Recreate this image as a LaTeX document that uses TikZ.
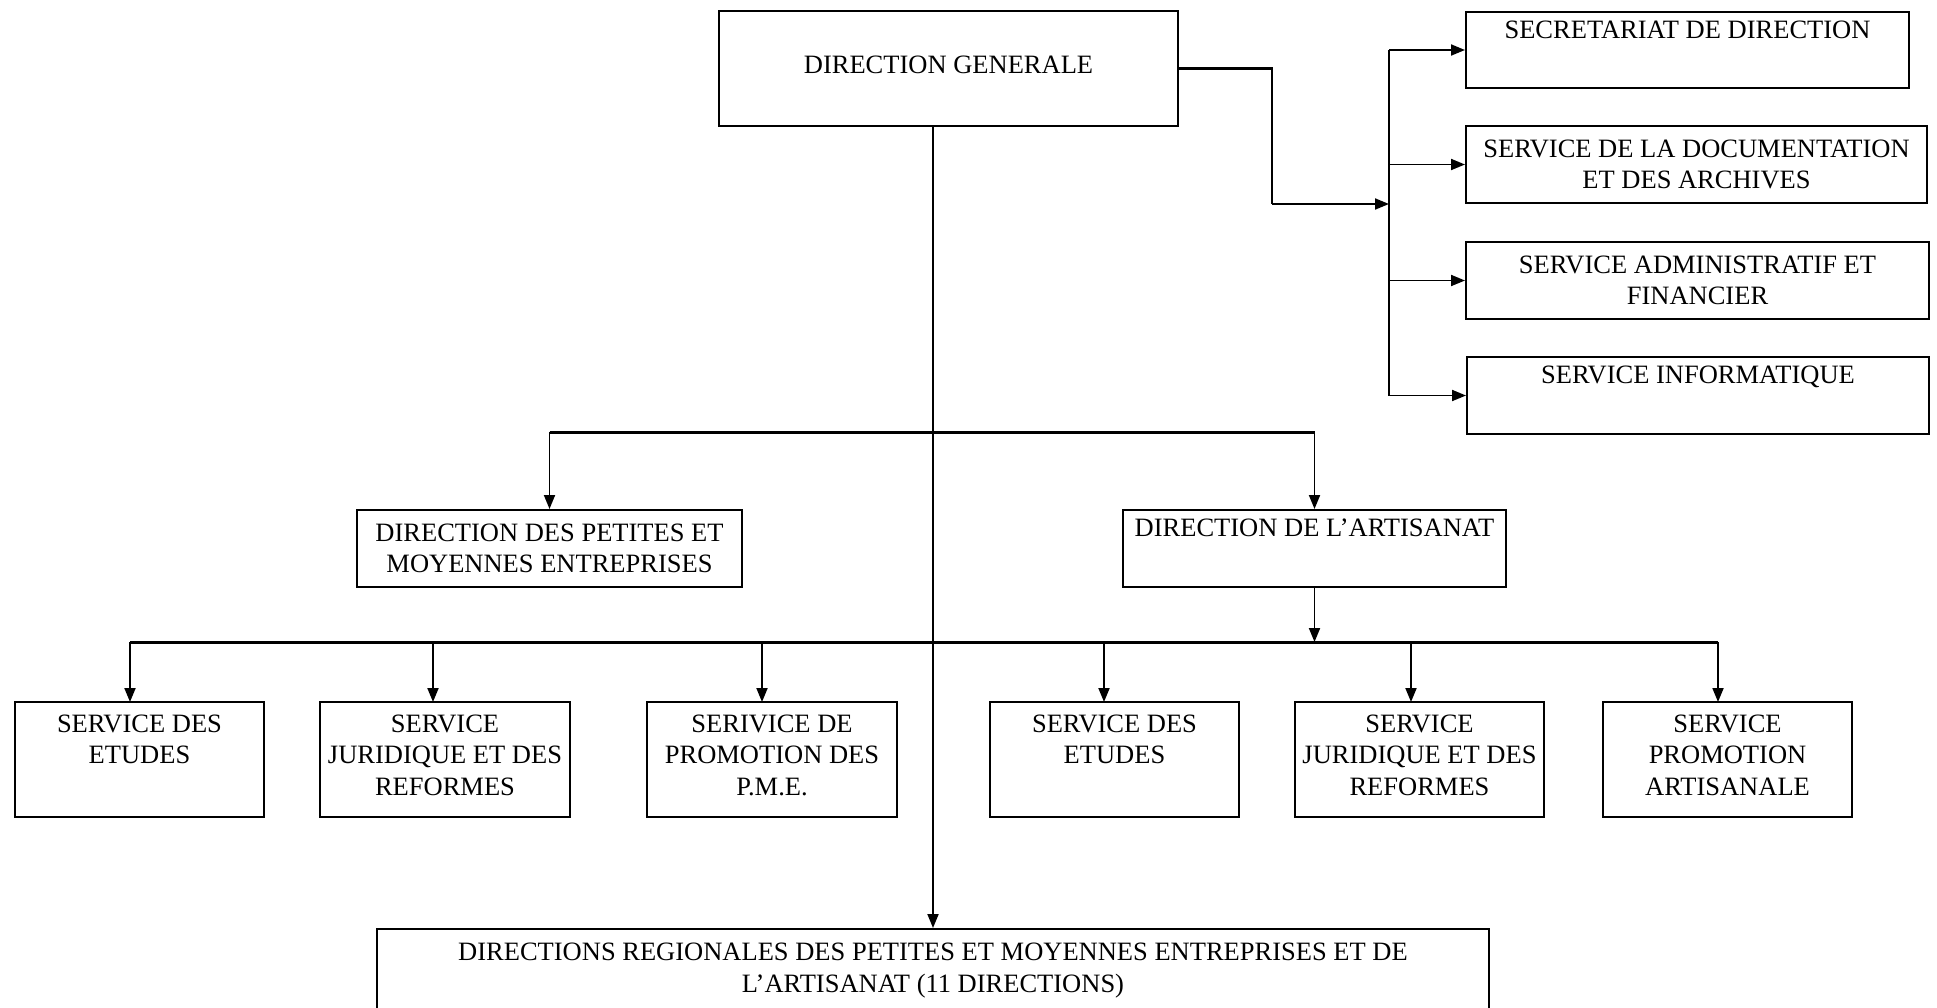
\documentclass[tikz,border=0pt]{standalone}
\usepackage{fontspec}
\setmainfont{Liberation Serif}
\usetikzlibrary{arrows.meta}
\begin{document}
\begin{tikzpicture}[x=1pt,y=-1pt,
  box/.style={draw, line width=2pt, align=center, inner sep=0pt,
    font=\fontsize{26.5}{31.5}\selectfont},
  conn/.style={line width=2.1pt},
  bus/.style={line width=3pt},
  arr/.style={line width=1.9pt, -{Triangle[length=14pt,width=11pt]}},
]
\useasboundingbox (0,0) rectangle (1937,1007);

% top
\node[box, minimum width=459pt, minimum height=115pt, text depth=8pt] (DG) at (948.5,68.5) {DIRECTION GENERALE};

% right column
\node[box, minimum width=443pt, minimum height=76pt] (SEC) at (1687.5,50) {SECRETARIAT DE DIRECTION\\\strut};
\node[box, minimum width=461pt, minimum height=77pt] (DOC) at (1696.5,164.5) {SERVICE DE LA DOCUMENTATION\\ET DES ARCHIVES};
\node[box, minimum width=463pt, minimum height=77pt] (ADM) at (1697.5,280.5) {SERVICE ADMINISTRATIF ET\\FINANCIER};
\node[box, minimum width=462pt, minimum height=77pt] (INFO) at (1698,395.5) {SERVICE INFORMATIQUE\\\strut};

% middle
\node[box, minimum width=385pt, minimum height=77pt] (DPME) at (549.5,548.5) {DIRECTION DES PETITES ET\\MOYENNES ENTREPRISES};
\node[box, minimum width=383pt, minimum height=77pt] (DA) at (1314.5,548.5) {DIRECTION DE L’ARTISANAT\\\strut};

% bottom row
\node[box, minimum width=249pt, minimum height=115pt] (B1) at (139.5,759.5) {SERVICE DES\\ETUDES\\\strut};
\node[box, minimum width=250pt, minimum height=115pt] (B2) at (445,759.5) {SERVICE\\JURIDIQUE ET DES\\REFORMES\strut};
\node[box, minimum width=250pt, minimum height=115pt] (B3) at (772,759.5) {SERIVICE DE\\PROMOTION DES\\P.M.E.\strut};
\node[box, minimum width=249pt, minimum height=115pt] (B4) at (1114.5,759.5) {SERVICE DES\\ETUDES\\\strut};
\node[box, minimum width=249pt, minimum height=115pt] (B5) at (1419.5,759.5) {SERVICE\\JURIDIQUE ET DES\\REFORMES\strut};
\node[box, minimum width=249pt, minimum height=115pt] (B6) at (1727.5,759.5) {SERVICE\\PROMOTION\\ARTISANALE\strut};

% regional
\node[box, minimum width=1112pt, minimum height=83pt] (DR) at (933,970.5) {DIRECTIONS REGIONALES DES PETITES ET MOYENNES ENTREPRISES ET DE\\L’ARTISANAT (11 DIRECTIONS)};

% connectors: right branch
\coordinate (rk) at (1272,68.5);
\coordinate (rj) at (1272,204);
\coordinate (rb) at (1389,204);
\draw[conn] (DG.east) -- (rk) -- (rj);
\draw[arr] (rj) -- (rb);
\draw[conn] (SEC.west -| rb) -- (INFO.west -| rb);
\draw[arr] (SEC.west -| rb) -- (SEC.west);
\draw[arr] (DOC.west -| rb) -- (DOC.west);
\draw[arr] (ADM.west -| rb) -- (ADM.west);
\draw[arr] (INFO.west -| rb) -- (INFO.west);

% main vertical
\draw[arr] (DG.south -| DR.north) -- (DR.north);

% middle bus
\coordinate (mb) at (933,432);
\draw[bus] (DPME.north |- mb) -- (DA.north |- mb);
\draw[arr] (DPME.north |- mb) -- (DPME.north);
\draw[arr] (DA.north |- mb) -- (DA.north);

% bottom bus
\coordinate (bb) at (0,642);
\coordinate (t1) at (130,702);
\coordinate (t2) at (433,702);
\coordinate (t3) at (762,702);
\coordinate (t4) at (1104,702);
\coordinate (t5) at (1411,702);
\coordinate (t6) at (1718,702);
\draw[bus] (t1 |- bb) -- (t6 |- bb);
\draw[arr] (DA.south) -- (DA.south |- bb);
\foreach \t in {t1,t2,t3,t4,t5,t6} {
  \draw[arr] (\t |- bb) -- (\t);
}
\end{tikzpicture}
\end{document}
